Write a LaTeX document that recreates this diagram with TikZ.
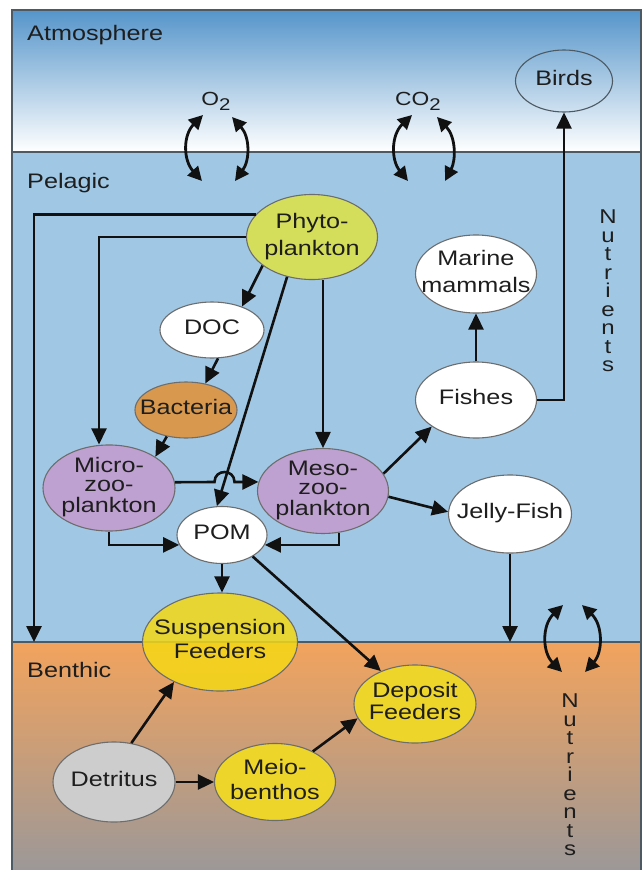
\documentclass[tikz,border=0pt]{standalone}
\usepackage{fontspec}
\setmainfont{Liberation Sans}[FakeStretch=1.2]
\usetikzlibrary{shapes.geometric,arrows.meta,calc}
\definecolor{atmTop}{HTML}{5595CA}
\definecolor{atmMid}{HTML}{90BEE1}
\definecolor{pel}{HTML}{A0C8E5}
\definecolor{benTop}{HTML}{F2A35D}
\definecolor{benMid}{HTML}{C8A78E}
\definecolor{benBot}{HTML}{9C9898}
\definecolor{bnd}{HTML}{4D5A63}
\definecolor{elb}{HTML}{6D6D6D}
\definecolor{txt}{HTML}{1E1E1E}
\definecolor{arrc}{HTML}{111111}
\definecolor{phytoC}{HTML}{D4DE5B}
\definecolor{bactC}{HTML}{D8994E}
\definecolor{zooC}{HTML}{BFA1D1}
\definecolor{yel}{HTML}{EDD52A}
\definecolor{suspC}{HTML}{F4D816}
\definecolor{detC}{HTML}{CDCDCD}
\newcommand\zt[1]{\makebox[0pt]{\begin{tabular}{@{}c@{}}#1\end{tabular}}}
\begin{document}
\begin{tikzpicture}[x=1pt,y=-1pt,
  el/.style={ellipse, draw=elb, line width=1.1pt, inner sep=0pt, text=txt, font=\fontsize{21}{24}\selectfont},
  arr/.style={draw=arrc, line width=2.6pt, -{Triangle[length=16pt,width=15pt]}},
  dbl/.style={draw=arrc, line width=2.8pt, {Triangle[length=14pt,width=14pt]}-{Triangle[length=14pt,width=14pt]}},
  region/.style={anchor=base west, text=txt, font=\fontsize{21}{21}\selectfont, inner sep=0pt},
  gas/.style={anchor=base, text=txt, font=\fontsize{19}{19}\selectfont, inner sep=0pt},
  nut/.style={align=center, text=txt, font=\fontsize{20}{18.5}\selectfont, inner sep=0pt},
  bndline/.style={draw=bnd, line width=1.5pt}
]
\useasboundingbox (0,0) rectangle (642,870);
% backgrounds
\fill[white] (0,0) rectangle (642,870);
\shade[top color=atmTop, middle color=atmMid, bottom color=white] (12,10) rectangle (641,152);
\fill[pel] (12,152) rectangle (641,642);
\shade[top color=benTop, middle color=benMid, bottom color=benBot] (12,642) rectangle (641,870);
\draw[bndline] (12,152) -- (641,152);
\draw[bndline] (12,642) -- (641,642);
\draw[draw=bnd, line width=1.2pt] (12,870) -- (12,10) -- (641,10) -- (641,870);

% region labels
\node[region] (atm) at (27,40) {Atmosphere};
\node[region] (pel) at (27,188) {Pelagic};
\node[region] (ben) at (27,677) {Benthic};

% gases
\node[gas] (o2) at (216,105) {O\raisebox{-5pt}{\fontsize{17}{17}\selectfont 2}};
\node[gas] (co2) at (418,105) {CO\raisebox{-5pt}{\fontsize{17}{17}\selectfont 2}};

% nutrients
\node[nut] (nut1) at (608,291) {N\\u\\t\\r\\i\\e\\n\\t\\s};
\node[nut] (nut2) at (570,775) {N\\u\\t\\r\\i\\e\\n\\t\\s};

% exchange arrows
\draw[dbl] (203,115) .. controls (183,135) and (183,160) .. (202,181);
\draw[dbl] (232,117) .. controls (250,137) and (250,160) .. (235,181);
\draw[dbl] (412,115) .. controls (391,135) and (391,160) .. (408,181);
\draw[dbl] (437,117) .. controls (456,137) and (456,160) .. (445,181);
\draw[dbl] (563,605) .. controls (542,625) and (542,652) .. (562,672);
\draw[dbl] (582,605) .. controls (603,625) and (603,652) .. (585,672);

% nodes
\node[el, fill=phytoC, minimum width=131pt, minimum height=85pt, font=\fontsize{21}{27}\selectfont] (phyto) at (312,237) {\zt{Phyto-\\plankton}};
\node[el, fill=white, minimum width=104pt, minimum height=56pt] (doc) at (212,330) {\zt{DOC}};
\node[el, fill=bactC, minimum width=102pt, minimum height=56pt] (bact) at (186,410) {\zt{Bacteria}};
\node[el, fill=zooC, minimum width=132pt, minimum height=84pt, font=\fontsize{21}{19}\selectfont] (micro) at (109,488) {\zt{Micro-\\zoo-\\plankton}};
\node[el, fill=zooC, minimum width=131pt, minimum height=84pt, font=\fontsize{21}{19}\selectfont] (meso) at (323,491) {\zt{Meso-\\zoo-\\plankton}};
\node[el, fill=white, minimum width=90pt, minimum height=57pt] (pom) at (222,535) {\zt{POM}};
\node[el, fill=white, minimum width=121pt, minimum height=78pt, font=\fontsize{21}{27}\selectfont] (mm) at (476,274) {\zt{Marine\\mammals}};
\node[el, fill=white, minimum width=121pt, minimum height=76pt] (fishes) at (476,400) {\zt{Fishes}};
\node[el, fill=white, minimum width=123pt, minimum height=78pt] (jelly) at (510,514) {\zt{Jelly-Fish}};
\node[el, draw=bnd, minimum width=97pt, minimum height=62pt] (birds) at (564,81) {\zt{Birds}};
\node[el, fill=suspC, fill opacity=0.85, text opacity=1, minimum width=155pt, minimum height=98pt, font=\fontsize{21}{24}\selectfont] (susp) at (220,642) {\zt{Suspension\\Feeders}};
\node[el, fill=yel, minimum width=122pt, minimum height=78pt, font=\fontsize{21}{22}\selectfont] (dep) at (415,704) {\zt{Deposit\\Feeders}};
\node[el, fill=yel, minimum width=121pt, minimum height=77pt, font=\fontsize{21}{25}\selectfont] (meio) at (275,782) {\zt{Meio-\\benthos}};
\node[el, fill=detC, minimum width=122pt, minimum height=80pt] (det) at (114,782) {\zt{Detritus}};

% connectors
\coordinate (b1) at (34,642);
\coordinate (b2) at (510,642);
\coordinate (hopA) at (214.5,482);
\coordinate (hopB) at (234.5,482);
\draw[arr] (phyto.158) -| (b1);
\draw[arr] (phyto.west) -| ([xshift=-10pt]micro.north);
\draw[arr] (phyto.210) -- (doc.38);
\draw[arr] (phyto.238) -- (pom.100);
\draw[arr] (phyto.south -| meso.north) -- (meso.north);
\draw[arr] (doc.282) -- (bact.54);
\draw[arr] (bact.234) -- (micro.34);
\draw[arr] (micro.5) -- (hopA) .. controls +(0,-13.3) and +(0,-13.3) .. (hopB) -- (meso.172);
\draw[arr] (micro.south) |- (pom.193);
\draw[arr] (meso.291) |- (pom.347);
\draw[arr] (pom.south) -- (pom.south |- susp.north);
\draw[arr] (pom.325) -- (dep.136);
\draw[arr] (meso.16) -- (fishes.211);
\draw[arr] (meso.355) -- (jelly.178);
\draw[arr] (fishes.north) -- (mm.south);
\draw[arr] (fishes.east) -| (birds.south);
\draw[arr] (jelly.south) -- (b2);
\draw[arr] (det.66) -- (susp.221);
\draw[arr] (det.east) -- (meio.west);
\draw[arr] (meio.39) -- (dep.194);
\end{tikzpicture}
\end{document}
